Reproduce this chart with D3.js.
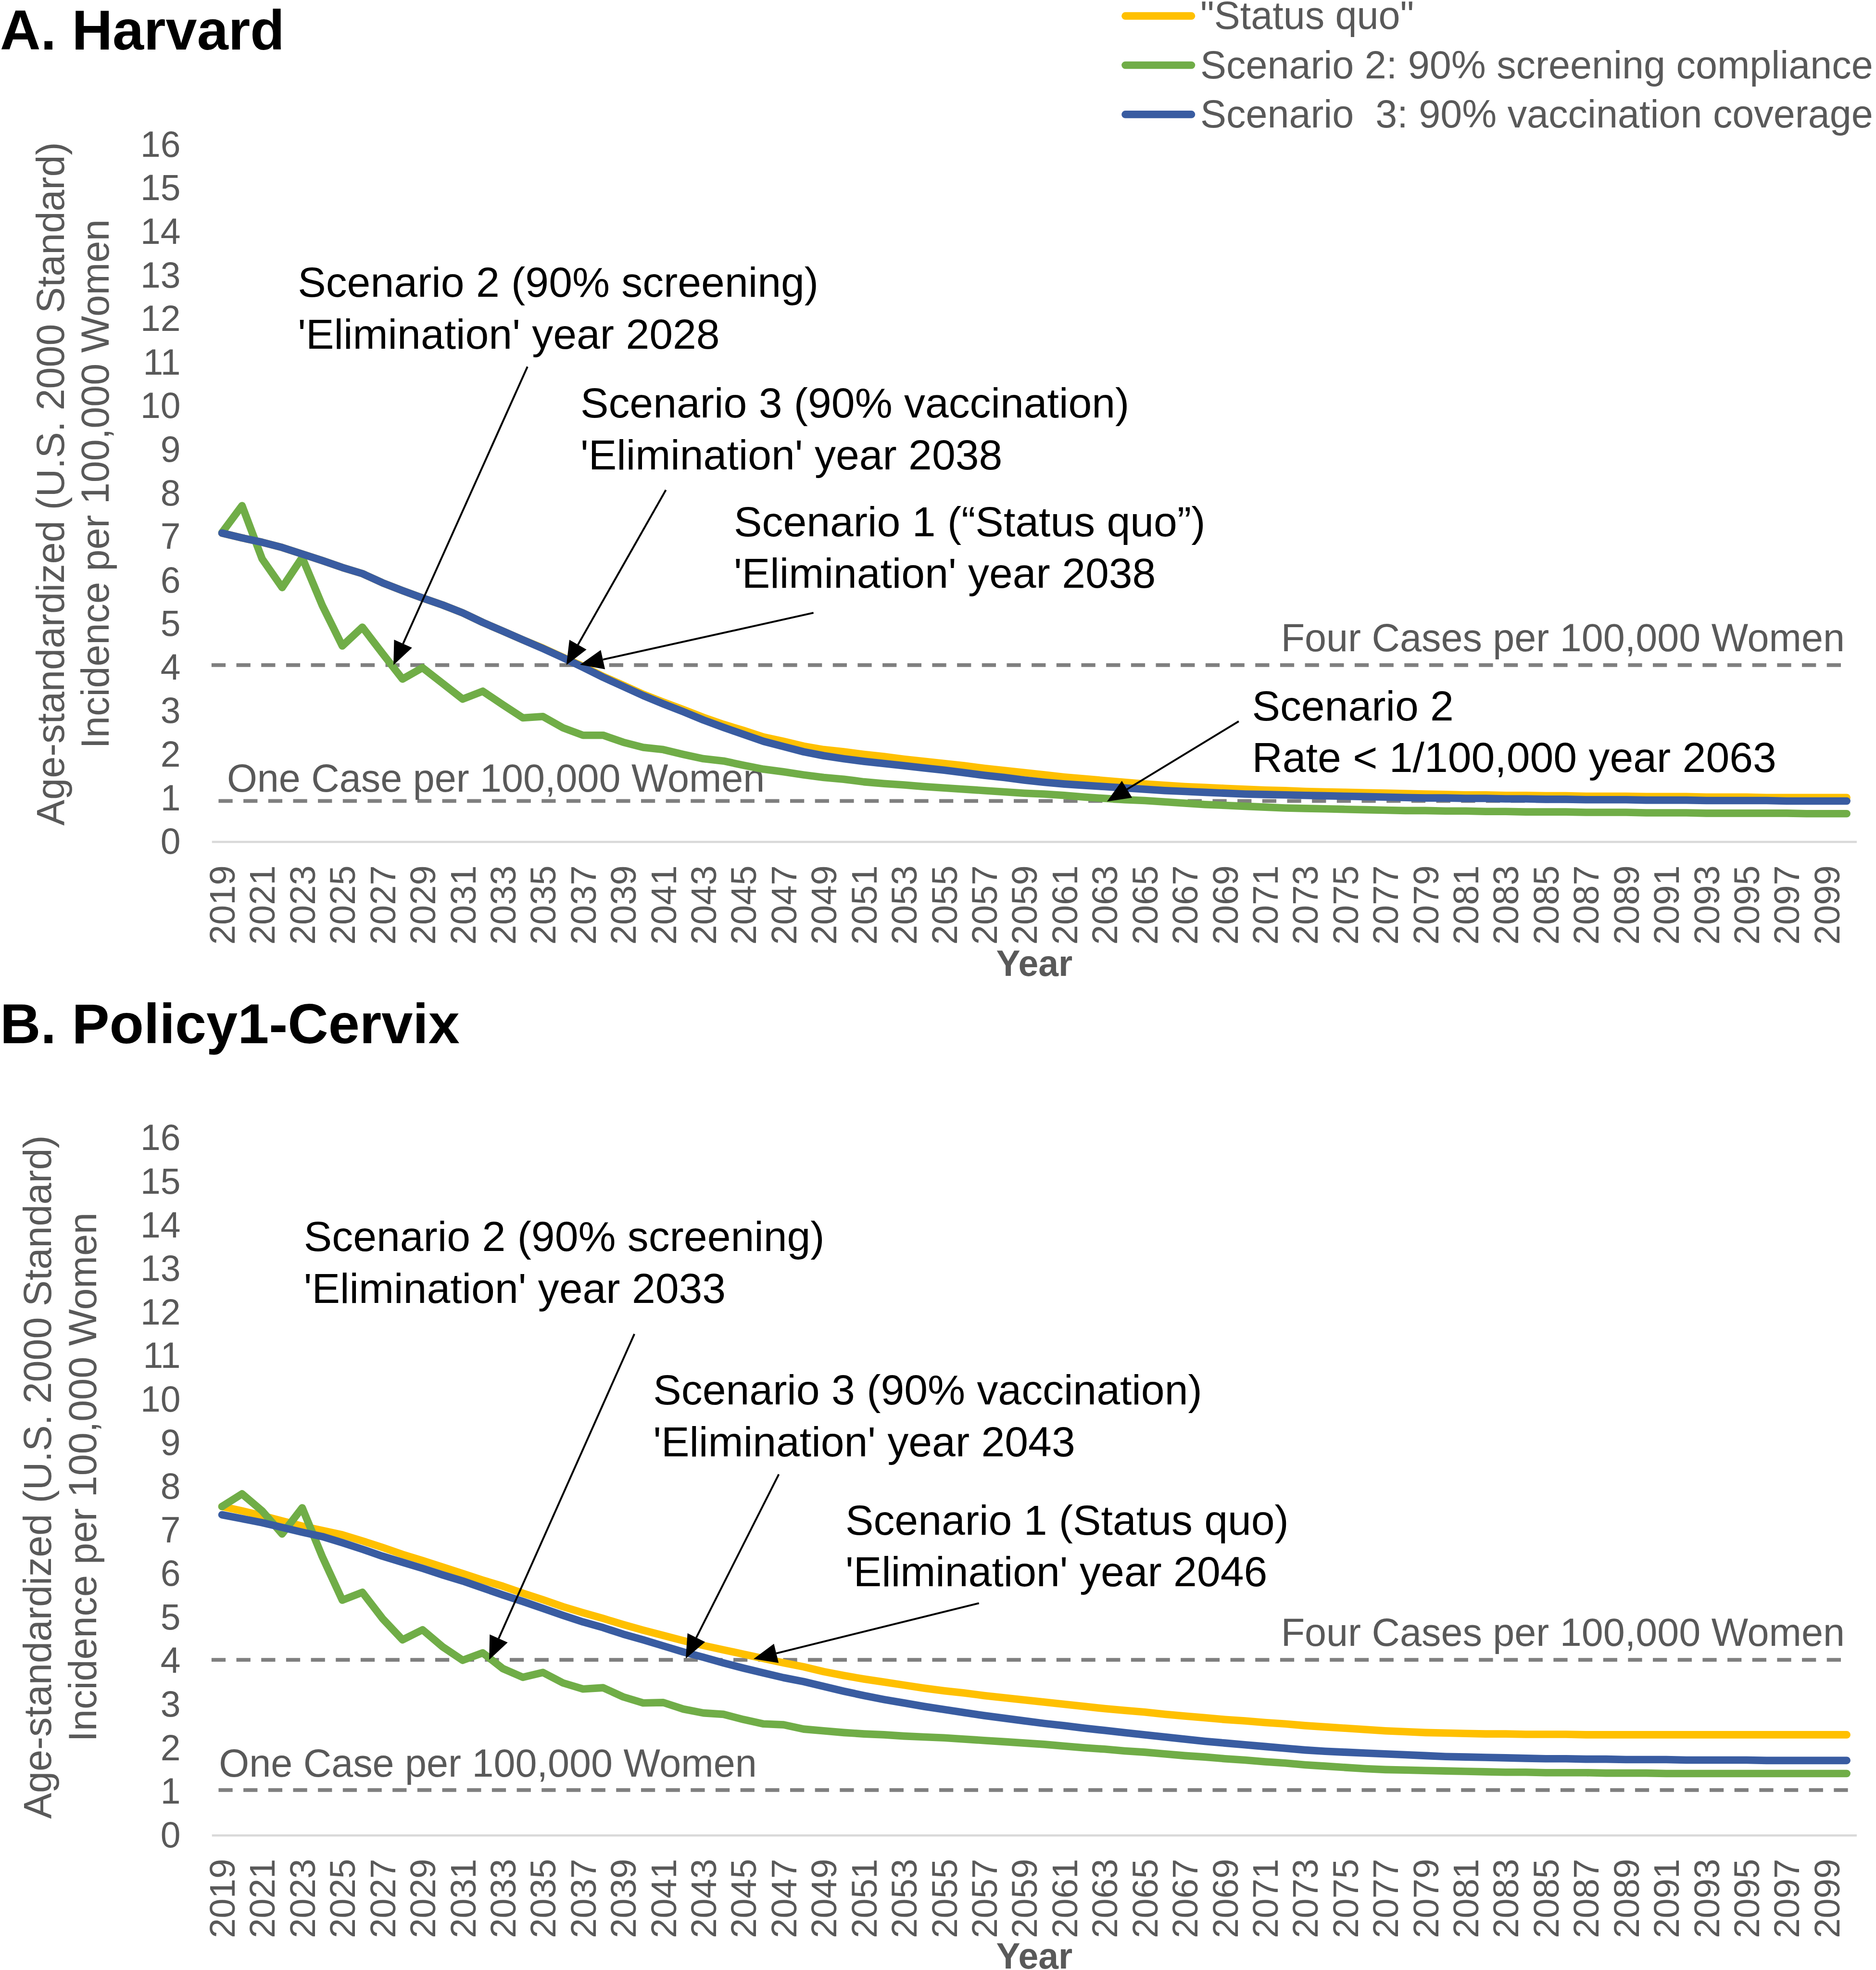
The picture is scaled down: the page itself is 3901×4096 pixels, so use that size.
<!DOCTYPE html>
<html><head><meta charset="utf-8">
<script src="https://cdn.jsdelivr.net/npm/d3@7"></script>
<style>
html,body{margin:0;padding:0;background:#fff;overflow:hidden}
text{font-family:"Liberation Sans",Arial,Helvetica,sans-serif}
</style>
</head><body><script>
// ---------- categories & ticks ----------
const years = d3.range(2019, 2101);               // 2019..2100
const xTickYears = years.filter(y => y % 2 === 1); // labelled years
const yTicks = [0,1,2,3,4,5,6,7,8,9,10,11,12,13,14,15,16];
const seriesNames = ['"Status quo"', 'Scenario 2: 90% screening compliance', 'Scenario  3: 90% vaccination coverage'];
const seriesColors = ['#FFC000', '#70AD47', '#395CA1'];

// ---------- Panel A: Harvard ----------
const harvardStatusQuo = [
 7.09,6.98,6.88,6.76,6.61,6.46,6.30,6.16,5.95,5.77,
 5.60,5.44,5.26,5.04,4.84,4.64,4.45,4.24,4.03,3.80,
 3.60,3.39,3.21,3.04,2.86,2.70,2.56,2.41,2.31,2.20,
 2.12,2.07,2.01,1.96,1.90,1.85,1.80,1.75,1.69,1.64,
 1.59,1.54,1.49,1.45,1.41,1.37,1.33,1.30,1.27,1.25,
 1.23,1.21,1.19,1.18,1.16,1.15,1.14,1.13,1.12,1.11,
 1.10,1.09,1.08,1.08,1.07,1.07,1.06,1.06,1.05,1.05,
 1.05,1.04,1.04,1.04,1.03,1.03,1.03,1.02,1.02,1.02,
 1.02,1.02];
const harvardScreening = [
 7.10,7.72,6.50,5.84,6.53,5.43,4.50,4.93,4.33,3.74,
 4.00,3.64,3.28,3.46,3.15,2.85,2.88,2.62,2.45,2.45,
 2.29,2.17,2.12,2.01,1.91,1.86,1.76,1.67,1.61,1.54,
 1.48,1.44,1.38,1.34,1.31,1.27,1.24,1.21,1.18,1.15,
 1.12,1.10,1.07,1.03,1.00,0.97,0.95,0.92,0.89,0.86,
 0.84,0.82,0.80,0.78,0.77,0.76,0.75,0.74,0.73,0.72,
 0.72,0.71,0.71,0.70,0.70,0.69,0.69,0.69,0.68,0.68,
 0.68,0.67,0.67,0.67,0.66,0.66,0.66,0.66,0.66,0.65,
 0.65,0.65];
const harvardVaccination = [
 7.09,6.98,6.88,6.76,6.61,6.46,6.30,6.16,5.95,5.77,
 5.60,5.44,5.26,5.04,4.84,4.64,4.44,4.23,4.01,3.78,
 3.57,3.36,3.17,2.99,2.80,2.63,2.47,2.31,2.19,2.07,
 1.98,1.91,1.85,1.80,1.75,1.70,1.65,1.59,1.53,1.48,
 1.42,1.37,1.33,1.30,1.27,1.24,1.21,1.18,1.16,1.14,
 1.12,1.10,1.09,1.08,1.07,1.06,1.05,1.04,1.03,1.02,
 1.01,1.01,1.00,1.00,0.99,0.99,0.98,0.98,0.97,0.97,
 0.97,0.96,0.96,0.96,0.95,0.95,0.95,0.95,0.94,0.94,
 0.94,0.94];

// ---------- Panel B: Policy1-Cervix ----------
const policyStatusQuo = [
 7.55,7.45,7.34,7.22,7.10,7.00,6.90,6.76,6.61,6.45,
 6.31,6.16,6.01,5.86,5.72,5.56,5.41,5.25,5.11,4.98,
 4.84,4.71,4.59,4.47,4.36,4.26,4.16,4.06,3.96,3.87,
 3.76,3.67,3.59,3.52,3.45,3.38,3.32,3.27,3.21,3.16,
 3.11,3.06,3.01,2.96,2.91,2.87,2.83,2.78,2.74,2.70,
 2.66,2.63,2.59,2.56,2.52,2.49,2.46,2.43,2.40,2.38,
 2.36,2.35,2.34,2.33,2.33,2.32,2.32,2.32,2.31,2.31,
 2.31,2.31,2.31,2.31,2.31,2.31,2.31,2.31,2.31,2.31,
 2.31,2.31];
const policyScreening = [
 7.55,7.84,7.45,6.92,7.52,6.40,5.40,5.58,4.98,4.49,
 4.72,4.33,4.02,4.19,3.83,3.63,3.74,3.50,3.36,3.39,
 3.18,3.04,3.05,2.90,2.81,2.78,2.66,2.56,2.54,2.44,
 2.40,2.36,2.33,2.31,2.28,2.26,2.24,2.21,2.18,2.15,
 2.12,2.09,2.05,2.01,1.98,1.94,1.91,1.87,1.83,1.80,
 1.76,1.73,1.69,1.66,1.62,1.59,1.56,1.53,1.51,1.50,
 1.49,1.48,1.47,1.46,1.45,1.45,1.44,1.44,1.44,1.43,
 1.43,1.43,1.42,1.42,1.42,1.42,1.42,1.42,1.42,1.42,
 1.42,1.42];
const policyVaccination = [
 7.36,7.27,7.18,7.07,6.96,6.86,6.72,6.57,6.41,6.27,
 6.13,5.98,5.84,5.68,5.52,5.37,5.21,5.05,4.90,4.77,
 4.62,4.49,4.35,4.21,4.09,3.96,3.84,3.73,3.62,3.53,
 3.42,3.31,3.21,3.12,3.04,2.96,2.89,2.82,2.75,2.69,
 2.63,2.57,2.52,2.46,2.41,2.36,2.31,2.26,2.21,2.16,
 2.12,2.08,2.04,2.00,1.96,1.93,1.91,1.89,1.87,1.85,
 1.83,1.81,1.80,1.79,1.78,1.77,1.76,1.76,1.75,1.75,
 1.74,1.74,1.74,1.73,1.73,1.73,1.73,1.72,1.72,1.72,
 1.72,1.72];

// reference lines (value as drawn in the figure)
const refLinesA = [{label:'Four Cases per 100,000 Women', value:4.06, kind:'four'},
                   {label:'One Case per 100,000 Women', value:0.94, kind:'one'}];
const refLinesB = [{label:'Four Cases per 100,000 Women', value:4.03, kind:'four'},
                   {label:'One Case per 100,000 Women', value:1.04, kind:'one'}];

// annotations in data coordinates [year, value]
const annotationsA = [
 {lines:['Scenario 2 (90% screening)', "'Elimination' year 2028"], at:[2022.78,12.51], from:[2034.23,10.91], to:[2027.55,4.06]},
 {lines:['Scenario 3 (90% vaccination)', "'Elimination' year 2038"], at:[2036.87,9.74], from:[2041.13,8.08], to:[2036.17,4.06]},
 {lines:['Scenario 1 (\u201CStatus quo\u201D)', "'Elimination' year 2038"], at:[2044.52,7.02], from:[2048.49,5.26], to:[2036.85,4.07]},
 {lines:['Scenario 2', 'Rate < 1/100,000 year 2063'], at:[2070.35,2.79], from:[2069.69,2.77], to:[2063.12,0.93]}
];
const annotationsB = [
 {lines:['Scenario 2 (90% screening)', "'Elimination' year 2033"], at:[2023.08,13.41], from:[2039.56,11.51], to:[2032.32,4.03]},
 {lines:['Scenario 3 (90% vaccination)', "'Elimination' year 2043"], at:[2040.50,9.89], from:[2046.76,8.29], to:[2042.12,4.06]},
 {lines:['Scenario 1 (Status quo)', "'Elimination' year 2046"], at:[2050.08,6.90], from:[2056.74,5.33], to:[2045.50,4.05]}
];

// ---------- layout (reference pixel space 4000 x 4200) ----------
const W = 4000, H = 4200;
const svg = d3.select('body').append('svg')
  .attr('width', W * 0.975).attr('height', H * 0.975)
  .attr('viewBox', `0 0 ${W} ${H}`);

const panels = [
 {title:'A. Harvard', titleY:106, zeroY:1795.5, series:[harvardStatusQuo, harvardScreening, harvardVaccination],
  refs:refLinesA, notes:annotationsA, oneLabelX:484, oneLabelGap:20, yTitleX:[136,232], yTitleC:1032},
 {title:'B. Policy1-Cervix', titleY:2225, zeroY:3914, series:[policyStatusQuo, policyScreening, policyVaccination],
  refs:refLinesB, notes:annotationsB, oneLabelX:467, oneLabelGap:29, yTitleX:[109,205], yTitleC:3150}
];

const unit = 92.9;
const x = d3.scaleLinear().domain([2018.5, 2100.5]).range([452, 3960]);
const grey = '#595959';

panels.forEach((p, pi) => {
  const y = d3.scaleLinear().domain([0, 16]).range([p.zeroY, p.zeroY - 16 * unit]);
  const g = svg.append('g');

  // title
  g.append('text').attr('x', 0).attr('y', p.titleY).attr('font-size', 120)
    .attr('font-weight', 'bold').attr('fill', '#000').text(p.title);

  // y axis labels
  const ya = g.append('g').attr('transform', `translate(${x.range()[0]},0)`)
    .call(d3.axisLeft(y).tickValues(yTicks).tickSize(0).tickPadding(67));
  ya.select('.domain').remove();
  ya.selectAll('text').attr('font-size', 77).attr('fill', grey)
    .style('font-family', '"Liberation Sans",Arial,sans-serif');

  // category axis line
  g.append('line').attr('x1', x.range()[0]).attr('x2', x.range()[1])
    .attr('y1', y(0)).attr('y2', y(0)).attr('stroke', '#d9d9d9').attr('stroke-width', 4.6);

  // x axis labels
  const xa = g.append('g').attr('transform', `translate(0,${y(0)})`)
    .call(d3.axisBottom(x).tickValues(xTickYears).tickSize(0).tickFormat(d3.format('d')));
  xa.select('.domain').remove();
  xa.selectAll('text').attr('font-size', 76).attr('fill', grey)
    .attr('transform', 'rotate(-90)').attr('text-anchor', 'end')
    .attr('x', -50).attr('y', 0).attr('dy', '0.35em')
    .style('font-family', '"Liberation Sans",Arial,sans-serif');

  // x axis title
  g.append('text').attr('x', (x.range()[0] + x.range()[1]) / 2).attr('y', Math.min(y(0) + 286, H - 2))
    .attr('text-anchor', 'middle').attr('font-size', 77).attr('font-weight', 'bold')
    .attr('fill', grey).text('Year');

  // y axis title
  const yt = g.append('text').attr('transform', `translate(0,${p.yTitleC}) rotate(-90)`)
    .attr('text-anchor', 'middle').attr('font-size', 83).attr('fill', grey);
  yt.append('tspan').attr('x', 0).attr('y', p.yTitleX[0]).text('Age-standardized (U.S. 2000 Standard)');
  yt.append('tspan').attr('x', 0).attr('y', p.yTitleX[1]).text('Incidence per 100,000 Women');

  // reference lines
  p.refs.forEach(r => {
    const isFour = r.kind === 'four';
    const x1 = isFour ? x(2018.48) : x(2018.83);
    const x2 = isFour ? x(2099.9) : x(2100.35);
    g.append('line').attr('x1', x1).attr('x2', x2).attr('y1', y(r.value)).attr('y2', y(r.value))
      .attr('stroke', '#7f7f7f').attr('stroke-width', 8).attr('stroke-dasharray', '30 23');
    if (isFour) {
      g.append('text').attr('x', x(2099.9)).attr('y', y(r.value) - 30).attr('text-anchor', 'end')
        .attr('font-size', 83).attr('fill', grey).text(r.label);
    } else {
      g.append('text').attr('x', p.oneLabelX).attr('y', y(r.value) - p.oneLabelGap)
        .attr('font-size', 83).attr('fill', grey).text(r.label);
    }
  });

  // series lines
  const line = d3.line().x((d, i) => x(years[i])).y(d => y(d));
  p.series.forEach((s, k) => {
    g.append('path').datum(s).attr('d', line).attr('fill', 'none')
      .attr('stroke', seriesColors[k]).attr('stroke-width', 16)
      .attr('stroke-linejoin', 'round').attr('stroke-linecap', 'round');
  });

  // annotations
  p.notes.forEach(a => {
    const t = g.append('text').attr('font-size', 90).attr('fill', '#000')
      .attr('x', x(a.at[0])).attr('y', y(a.at[1]));
    a.lines.forEach((l, i) => t.append('tspan').attr('x', x(a.at[0]))
      .attr('dy', i === 0 ? 0 : 110).text(l));
    const fx = x(a.from[0]), fy = y(a.from[1]), tx = x(a.to[0]), ty = y(a.to[1]);
    const ang = Math.atan2(ty - fy, tx - fx);
    const L = 50, Wd = 21;
    const bx = tx - L * Math.cos(ang), by = ty - L * Math.sin(ang);
    g.append('line').attr('x1', fx).attr('y1', fy).attr('x2', bx).attr('y2', by)
      .attr('stroke', '#000').attr('stroke-width', 4);
    const px = -Math.sin(ang) * Wd, py = Math.cos(ang) * Wd;
    g.append('polygon').attr('points', `${tx},${ty} ${bx + px},${by + py} ${bx - px},${by - py}`)
      .attr('fill', '#000');
  });
});

// legend
const lg = svg.append('g');
seriesNames.forEach((n, i) => {
  const cy = 34 + i * 105;
  lg.append('line').attr('x1', 2400).attr('x2', 2541).attr('y1', cy).attr('y2', cy)
    .attr('stroke', seriesColors[i]).attr('stroke-width', 16).attr('stroke-linecap', 'round');
  lg.append('text').attr('x', 2560).attr('y', cy + 28).attr('font-size', 83).attr('fill', grey)
    .attr('xml:space', 'preserve').style('white-space', 'pre').text(n);
});
</script></body></html>
